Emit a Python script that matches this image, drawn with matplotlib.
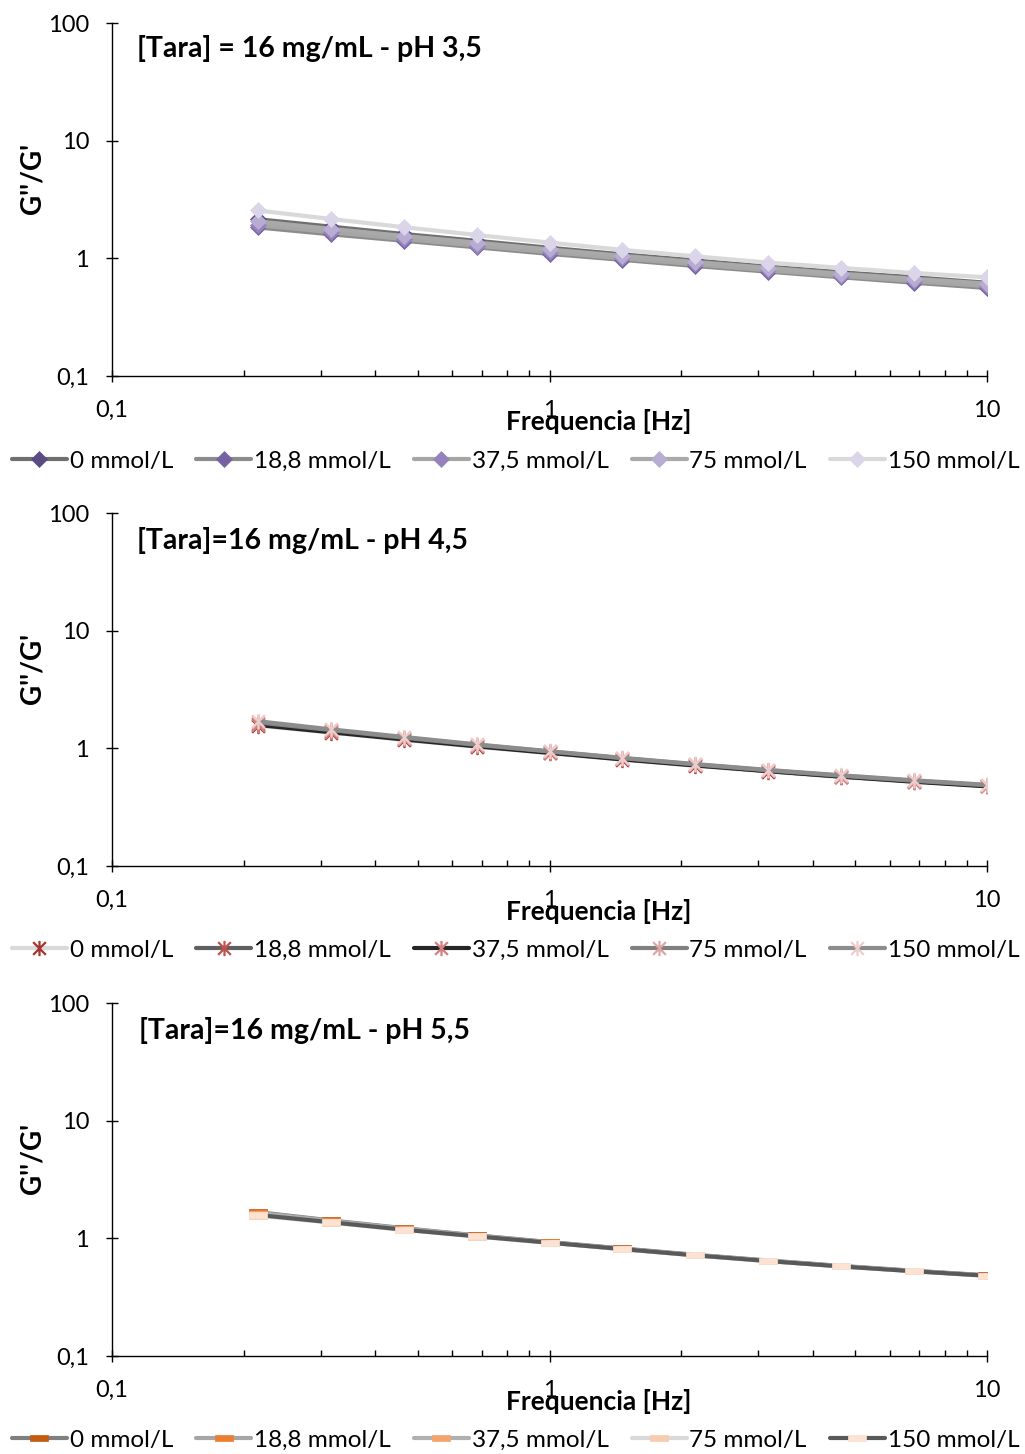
import matplotlib
matplotlib.use("Agg")
import matplotlib.pyplot as plt
from matplotlib.path import Path
from matplotlib.ticker import LogLocator, FixedLocator, NullFormatter

plt.rcParams['font.family'] = ['Lato', 'DejaVu Sans']

# Frequency sweep (Hz)
freq = [0.2154, 0.3162, 0.4642, 0.6813, 1.0, 1.468, 2.154, 3.162, 4.642, 6.813, 10.0]

series_labels = ["0 mmol/L", "18,8 mmol/L", "37,5 mmol/L", "75 mmol/L", "150 mmol/L"]

# G''/G' at pH 3,5
ph35_0 = [2.15, 1.86, 1.61, 1.41, 1.23, 1.08, 0.96, 0.85, 0.76, 0.69, 0.62]
ph35_18 = [1.83, 1.60, 1.41, 1.24, 1.09, 0.97, 0.86, 0.77, 0.69, 0.62, 0.56]
ph35_37 = [1.92, 1.67, 1.46, 1.28, 1.13, 1.00, 0.89, 0.79, 0.71, 0.64, 0.58]
ph35_75 = [2.06, 1.78, 1.55, 1.36, 1.19, 1.05, 0.93, 0.83, 0.74, 0.67, 0.61]
ph35_150 = [2.55, 2.16, 1.84, 1.58, 1.36, 1.18, 1.04, 0.92, 0.83, 0.75, 0.69]

# G''/G' at pH 4,5
ph45_0 = [1.56, 1.36, 1.18, 1.03, 0.91, 0.80, 0.71, 0.635, 0.57, 0.52, 0.48]
ph45_18 = [1.62, 1.40, 1.21, 1.05, 0.925, 0.81, 0.72, 0.64, 0.575, 0.525, 0.48]
ph45_37 = [1.58, 1.37, 1.19, 1.04, 0.915, 0.805, 0.715, 0.64, 0.575, 0.52, 0.475]
ph45_75 = [1.66, 1.43, 1.23, 1.07, 0.94, 0.825, 0.73, 0.65, 0.585, 0.53, 0.485]
ph45_150 = [1.70, 1.45, 1.25, 1.08, 0.945, 0.83, 0.735, 0.655, 0.59, 0.535, 0.49]

# G''/G' at pH 5,5
ph55_0 = [1.67, 1.42, 1.22, 1.06, 0.93, 0.82, 0.725, 0.648, 0.583, 0.53, 0.485]
ph55_18 = [1.65, 1.41, 1.21, 1.055, 0.925, 0.815, 0.72, 0.645, 0.58, 0.528, 0.483]
ph55_37 = [1.62, 1.39, 1.20, 1.045, 0.92, 0.81, 0.718, 0.642, 0.578, 0.526, 0.482]
ph55_75 = [1.56, 1.36, 1.18, 1.035, 0.915, 0.807, 0.716, 0.64, 0.577, 0.525, 0.48]
ph55_150 = [1.58, 1.37, 1.185, 1.04, 0.918, 0.81, 0.717, 0.641, 0.577, 0.525, 0.481]

titles = ["[Tara] = 16 mg/mL - pH 3,5", "[Tara]=16 mg/mL - pH 4,5", "[Tara]=16 mg/mL - pH 5,5"]

y_ticks = [0.1, 1, 10, 100]
y_ticklabels = ["0,1", "1", "10", "100"]
x_ticks = [0.1, 1, 10]
x_ticklabels = ["0,1", "1", "10"]

# Marker shapes
asterisk = Path([(-1, -1), (1, 1), (-1, 1), (1, -1), (0, -1.2), (0, 1.2)],
                [Path.MOVETO, Path.LINETO, Path.MOVETO, Path.LINETO, Path.MOVETO, Path.LINETO])
dash = Path([(-1, -0.4), (1, -0.4), (1, 0.4), (-1, 0.4), (-1, -0.4)],
            [Path.MOVETO, Path.LINETO, Path.LINETO, Path.LINETO, Path.CLOSEPOLY])

panels = [
    dict(data=[ph35_0, ph35_18, ph35_37, ph35_75, ph35_150],
         lines=["#6F6F6F", "#8C8C8C", "#A6A6A6", "#A9A9A9", "#D9D9D9"],
         marks=["#5C4A82", "#7662A2", "#9783BC", "#B8ACD3", "#DAD5E8"],
         marker="D", ms=8, filled=True, title_y=0.929),
    dict(data=[ph45_0, ph45_18, ph45_37, ph45_75, ph45_150],
         lines=["#D9D9D9", "#5F5F5F", "#262626", "#808080", "#8C8C8C"],
         marks=["#A5332F", "#C0504D", "#D27E7C", "#DDA5A4", "#EFCCCB"],
         marker=asterisk, ms=11, filled=False, title_y=0.9235),
    dict(data=[ph55_0, ph55_18, ph55_37, ph55_75, ph55_150],
         lines=["#7F7F7F", "#A6A6A6", "#B0B0B0", "#D9D9D9", "#595959"],
         marks=["#C55A11", "#ED7D31", "#F4A46A", "#F8CBAD", "#FBE2D2"],
         marker=dash, ms=12.5, filled=True, title_y=0.9235),
]

W, H = 1025, 1454
fig = plt.figure(figsize=(W / 100, H / 100), dpi=100)

ax_left, ax_width = 112 / W, 875 / W
ax_bottoms_px = [376, 866, 1356]
legend_y_px = [461, 950, 1440]
title_x = [0.0286, 0.0286, 0.031]

for i, p in enumerate(panels):
    bottom = 1 - ax_bottoms_px[i] / H
    ax = fig.add_axes([ax_left, bottom, ax_width, 353 / H])
    handles = []
    for vals, lc, mc, lab in zip(p["data"], p["lines"], p["marks"], series_labels):
        if p["filled"]:
            h, = ax.plot(freq, vals, color=lc, lw=3.0, marker=p["marker"], ms=p["ms"],
                         mfc=mc, mec=mc, mew=0.5, label=lab, solid_capstyle="round")
        else:
            h, = ax.plot(freq, vals, color=lc, lw=3.0, marker=p["marker"], ms=p["ms"],
                         mfc="none", mec=mc, mew=1.6, label=lab, solid_capstyle="round")
        handles.append(h)

    ax.set_xscale("log")
    ax.set_yscale("log")
    ax.set_xlim(0.1, 10)
    ax.set_ylim(0.1, 100)
    for s in ["top", "right"]:
        ax.spines[s].set_visible(False)
    for s in ["left", "bottom"]:
        ax.spines[s].set_color("#000000")
        ax.spines[s].set_linewidth(1.0)

    ax.yaxis.set_major_locator(FixedLocator(y_ticks))
    ax.set_yticklabels(y_ticklabels)
    ax.yaxis.set_minor_locator(FixedLocator([]))
    ax.xaxis.set_major_locator(FixedLocator(x_ticks))
    ax.set_xticklabels(x_ticklabels)
    ax.xaxis.set_minor_locator(LogLocator(base=10, subs=range(2, 10)))
    ax.xaxis.set_minor_formatter(NullFormatter())

    ax.tick_params(axis="y", which="major", direction="inout", length=9, width=1,
                   pad=12, labelsize=17, colors="#000000")
    ax.tick_params(axis="x", which="major", direction="inout", length=9, width=1,
                   pad=13, labelsize=17, colors="#000000")
    ax.tick_params(axis="x", which="minor", direction="in", length=4.5, width=1)

    ax.text(title_x[i], p["title_y"], titles[i], transform=ax.transAxes,
            fontsize=20.5, fontweight="bold", ha="left", va="center")
    ax.text(0.5566, -0.1275, "Frequencia [Hz]", transform=ax.transAxes,
            fontsize=19, fontweight="bold", ha="center", va="center")
    ax.text(-0.0903, 0.56, "G''/G'", transform=ax.transAxes, rotation=90,
            fontsize=20, fontweight="bold", ha="center", va="center")

    fig.legend(handles=handles, loc="center", bbox_to_anchor=(0.503, 1 - legend_y_px[i] / H),
               ncol=5, frameon=False, fontsize=17.5, handlelength=2.26, handletextpad=0.12,
               columnspacing=0.95, borderaxespad=0, borderpad=0)

fig.savefig("out.png", dpi=100)
